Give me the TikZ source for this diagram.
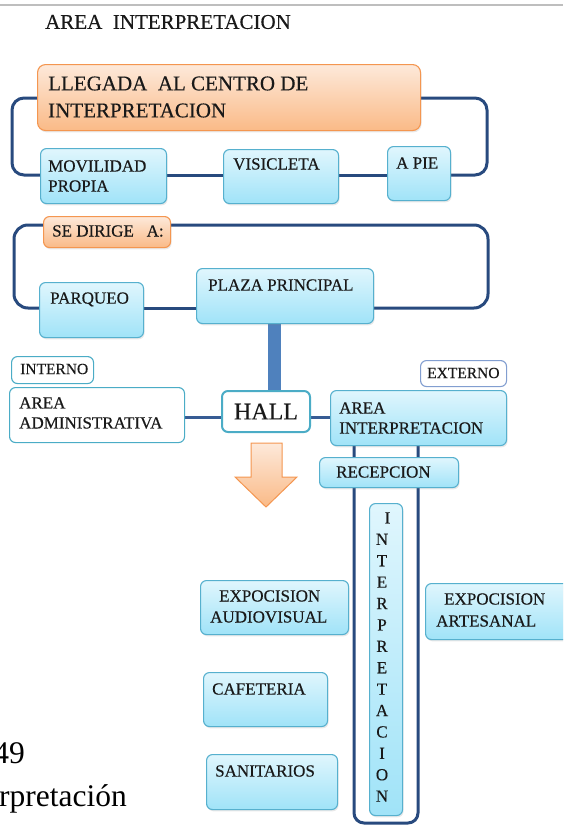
\documentclass[tikz,border=0pt]{standalone}
\usepackage{fontspec}
\setmainfont{Liberation Serif}
\newfontfamily\heavy{Liberation Serif}[FakeBold=0.35]
\usetikzlibrary{shadows,calc}
\pgfdeclarelayer{bg}
\pgfsetlayers{bg,main}
\definecolor{loopblue}{RGB}{40,74,126}
\definecolor{hlineblue}{RGB}{55,92,148}
\definecolor{thickblue}{RGB}{79,129,189}
\definecolor{bluetop}{RGB}{224,246,253}
\definecolor{bluebot}{RGB}{160,227,248}
\definecolor{blueedge}{RGB}{86,176,206}
\definecolor{orangetop}{RGB}{253,233,218}
\definecolor{orangebot}{RGB}{250,186,135}
\definecolor{orangeedge}{RGB}{244,150,80}
\definecolor{whiteedge}{RGB}{75,172,198}
\definecolor{extedge}{RGB}{130,158,208}
\definecolor{rulegray}{RGB}{190,190,190}
\definecolor{textdark}{RGB}{25,25,25}
\tikzset{
  boxbase/.style={anchor=north west, inner sep=0pt, rounded corners=6pt, line width=1.1pt},
  bluebox/.style={boxbase, draw=blueedge, top color=bluetop, bottom color=bluebot,
    drop shadow={shadow xshift=1pt, shadow yshift=-1.8pt, opacity=0.18}},
  orangebox/.style={boxbase, draw=orangeedge, top color=orangetop, bottom color=orangebot,
    drop shadow={shadow xshift=1pt, shadow yshift=-1.8pt, opacity=0.18}},
  whitebox/.style={boxbase, draw=whiteedge, fill=white},
  loopline/.style={draw=loopblue, line width=3pt, rounded corners=12pt},
  hline/.style={draw=hlineblue, line width=3pt},
  lbl/.style={anchor=west, inner sep=0pt, align=left, text=textdark, font=\heavy\fontsize{17}{20}\selectfont},
}
\newcommand\placebox[6]{\node[#6, minimum width={((#4)-(#2))*1pt}, minimum height={((#5)-(#3))*1pt}] (#1) at (#2,#3) {};}
\begin{document}
\begin{tikzpicture}[x=1pt,y=-1pt]
\useasboundingbox (0,0) rectangle (563,827);
\clip (0,0) rectangle (563,827);
\draw[rulegray, line width=2pt] (0,5) -- (563,5);
\node[anchor=west, inner sep=0pt, text=textdark, font=\heavy\fontsize{21}{25}\selectfont] (title) at (45,22) {AREA\ \ INTERPRETACION};

% boxes
\placebox{lleg}{37}{64}{420}{130}{orangebox, rounded corners=8pt}
\placebox{mov}{40}{148}{166}{203}{bluebox}
\placebox{vis}{223}{149}{338}{203}{bluebox}
\placebox{apie}{387}{146}{450}{200}{bluebox}
\placebox{sed}{43}{216}{170}{247}{orangebox}
\placebox{parq}{39}{282}{143}{337}{bluebox}
\placebox{plaza}{196}{268}{373}{323}{bluebox}
\placebox{interno}{11}{356}{93}{383}{whitebox}
\placebox{externo}{420}{360}{506}{386}{whitebox, draw=extedge}
\placebox{admin}{9}{387}{184}{442}{whitebox}
\placebox{hall}{221}{390}{309}{431}{whitebox, line width=2pt}
\placebox{ai}{330}{390}{506}{445}{bluebox}
\placebox{recep}{319}{457}{458}{487}{bluebox}
\placebox{vint}{369}{503}{402}{815}{bluebox}
\placebox{expav}{200}{580}{348}{634}{bluebox}
\placebox{caf}{203}{672}{327}{726}{bluebox}
\placebox{san}{206}{754}{337}{809}{bluebox}
\placebox{expar}{425}{583}{575}{639}{bluebox}

% connectors
\coordinate (k1) at (12,136);
\coordinate (k2) at (487,136);
\coordinate (k3) at (14,266);
\coordinate (k4) at (488,266);
\coordinate (k5) at (354,823);
\coordinate (k6) at (418,823);
\begin{pgfonlayer}{bg}
\draw[loopline] (lleg.west |- 0,98) -| (k1) |- (mov.west |- 0,175);
\draw[loopline] (mov.east |- 0,175) -- (vis.west |- 0,175);
\draw[loopline] (vis.east |- 0,175) -- (apie.west |- 0,175);
\draw[loopline] (apie.east |- 0,175) -| (k2) |- (lleg.east |- 0,98);
\draw[loopline, rounded corners=14pt] (sed.west |- 0,225) -| (k3) |- (parq.west |- 0,308);
\draw[loopline] (parq.east |- 0,308) -- (plaza.west |- 0,308);
\draw[loopline, rounded corners=14pt] (plaza.east |- 0,308) -| (k4) |- (sed.east |- 0,225);
\draw[thickblue, line width=13pt] (plaza.south -| 274,0) -- (hall.north -| 274,0);
\draw[hline] (admin.east |- 0,417) -- (hall.west |- 0,417);
\draw[hline] (hall.east |- 0,417) -- (ai.west |- 0,417);
\draw[loopline, rounded corners=10pt] (ai.south -| k5) -- (k5) -- (k6) -- (ai.south -| k6);
\end{pgfonlayer}

% arrow
\path[draw=orangeedge, line width=1pt, top color=orangetop, bottom color=orangebot, line join=miter]
  (251,443) -- (282,443) -- (282,477) -- (297,477) -- (266,507) -- (235,477) -- (251,477) -- cycle;

% labels
\node[lbl, font=\heavy\fontsize{21}{27}\selectfont] (t-lleg) at (48,97) {LLEGADA\ \ AL CENTRO DE\\INTERPRETACION};
\node[lbl] (t-mov) at (48,176) {MOVILIDAD\\PROPIA};
\node[lbl] (t-vis) at (233,164) {VISICLETA};
\node[lbl] (t-apie) at (396,163) {A PIE};
\node[lbl] (t-sed) at (52,231) {SE DIRIGE\ \ \ A:};
\node[lbl, text depth=0pt] (t-parq) at (50,298) {PARQUEO};
\node[lbl] (t-plaza) at (208,285) {PLAZA PRINCIPAL};
\node[lbl, font=\heavy\fontsize{15.5}{18}\selectfont] (t-interno) at (20,369) {INTERNO};
\node[lbl, font=\heavy\fontsize{15.5}{18}\selectfont] (t-externo) at (427,373) {EXTERNO};
\node[lbl] (t-admin) at (19,413) {AREA\\ADMINISTRATIVA};
\node[inner sep=0pt, text=textdark, font=\heavy\fontsize{24}{28}\selectfont] (t-hall) at (hall.center) {HALL};
\node[lbl] (t-ai) at (339,418) {AREA\\INTERPRETACION};
\node[lbl] (t-recep) at (336,472) {RECEPCION};
\node[inner sep=0pt, align=center, text=textdark, font=\heavy\fontsize{17}{21.4}\selectfont] (t-vint) at (382,657)
  {\hspace*{11pt}I\\N\\T\\E\\R\\P\\R\\E\\T\\A\\C\\I\\O\\N};
\node[lbl, font=\heavy\fontsize{17}{21}\selectfont] (t-expav) at (210,606.5) {\hspace*{9pt}EXPOCISION\\AUDIOVISUAL};
\node[lbl, font=\heavy\fontsize{17}{22}\selectfont] (t-expar) at (436,610) {\hspace*{8pt}EXPOCISION\\ARTESANAL};
\node[lbl] (t-caf) at (212,689) {CAFETERIA};
\node[lbl] (t-san) at (215,771) {SANITARIOS};

% clipped page text
\node[anchor=base east, inner sep=0pt, font=\fontsize{31.5}{36}\selectfont] (p49) at (25,763) {49};
\node[anchor=base west, inner sep=0pt, font=\fontsize{31.5}{36}\selectfont] (prp) at (-1,806) {rpretación};
\end{tikzpicture}
\end{document}
